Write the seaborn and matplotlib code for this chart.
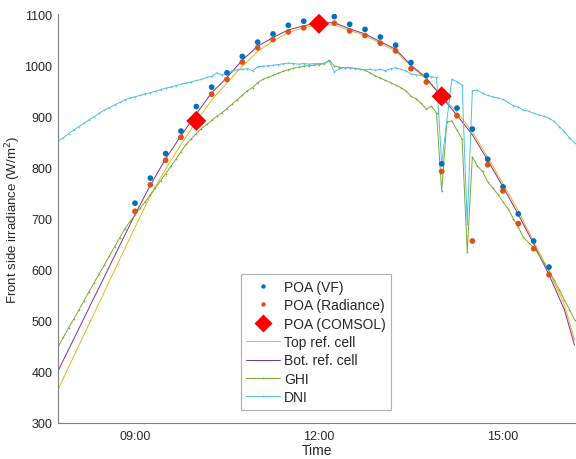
import matplotlib
matplotlib.use("Agg")
import matplotlib.pyplot as plt
import matplotlib.dates as mdates
from matplotlib.lines import Line2D
import pandas as pd
import seaborn as sns

DAY = "2021-06-01 "

# ---- POA simulations (15-min) ----
poa_times = pd.date_range(DAY + "09:00", DAY + "15:45", freq="15min")
poa_vf = [730, 779, 827, 871, 919, 957, 985, 1017, 1045, 1061, 1078, 1086, 1090,
          1095, 1080, 1070, 1055, 1039, 1005, 980, 807, 916, 875, 816, 762, 709, 656, 605]
poa_rad = [714, 766, 814, 859, 903, 943, 972, 1006, 1034, 1050, 1065, 1073, 1078,
           1082, 1067, 1058, 1043, 1028, 993, 967, 792, 901, 656, 805, 754, 690, 641, 590]

comsol_times = pd.to_datetime([DAY + t for t in ["10:00", "12:00", "14:00"]])
poa_comsol = [891, 1081, 939]

# ---- reference cells ----
ref_times = pd.to_datetime([DAY + t for t in [
    "07:45", "09:00", "09:15", "09:30", "09:45", "10:00", "10:15", "10:30", "10:45",
    "11:00", "11:15", "11:30", "11:45", "12:00", "12:15", "12:30", "12:45", "13:00",
    "13:15", "13:30", "13:45", "14:00", "14:15", "14:30", "14:45", "15:00", "15:15",
    "15:30", "15:45", "16:00", "16:10"]])
top_ref = [367, 683, 745, 797, 845, 890, 932, 965, 998, 1027, 1047, 1064, 1073, 1079,
           1079, 1068, 1058, 1043, 1027, 998, 972, 940, 908, 870, 820, 768, 715, 655,
           597, 532, 462]
bot_ref = [403, 708, 765, 817, 862, 905, 946, 976, 1010, 1037, 1054, 1069, 1077, 1083,
           1083, 1071, 1061, 1046, 1031, 1000, 975, 938, 902, 864, 814, 762, 708, 650,
           590, 522, 452]

# ---- meteo (5-min) ----
met_times = pd.date_range(DAY + "07:45", DAY + "16:10", freq="5min")
ghi = [450, 468, 486, 503, 521, 539, 557, 574, 592, 609, 627, 645, 662, 680, 694,
       707, 720, 733, 746, 760, 774, 788, 802, 816, 831, 845, 856,
       866, 876, 884, 892, 900, 907, 915, 924, 932, 941, 950, 956,
       966, 972, 976, 980, 984, 988, 991, 994, 996, 998, 999, 1000,
       1001, 1003, 1010, 998, 996, 995, 995, 994, 992, 990, 985, 979,
       975, 970, 966, 961, 956, 950, 939, 934, 925, 914, 920, 906,
       754, 888, 891, 873, 855, 634, 820, 803, 792, 772, 760, 747,
       733, 719, 700, 683, 663, 653, 643, 629, 613, 597, 580, 561,
       541, 522, 502]
dni = [852, 858, 866, 873, 880, 886, 893, 899, 906, 912, 917, 922, 927, 932, 936,
       938, 941, 944, 946, 949, 952, 955, 957, 960, 963, 965, 967,
       970, 972, 976, 978, 985, 981, 985, 989, 991, 992, 993, 989,
       997, 998, 999, 1000, 1001, 1003, 1004, 1003, 1002, 1003, 1002, 1003,
       1003, 1004, 1008, 987, 993, 995, 995, 993, 992, 991, 992, 990,
       992, 989, 993, 995, 992, 989, 983, 981, 980, 979, 977, 976,
       806, 890, 972, 968, 961, 690, 950, 951, 945, 941, 938, 936,
       933, 927, 921, 918, 912, 910, 906, 903, 900, 896, 890, 880,
       870, 858, 848]

C_VF, C_RAD = "#0072BD", "#D95319"
C_TOP, C_BOT, C_GHI, C_DNI = "#EDB120", "#7E2F8E", "#77AC30", "#4DBEEE"
TXT = "#262626"

sns.set_theme(style="white")
plt.rcParams["font.family"] = ["Liberation Sans", "DejaVu Sans"]

fig = plt.figure(figsize=(5.76, 4.6), dpi=100)
ax = fig.add_axes([0.1007, 0.0783, 0.8993, 0.889])

lw = 0.7
sns.lineplot(x=ref_times, y=top_ref, ax=ax, color=C_TOP, lw=lw, zorder=2)
sns.lineplot(x=ref_times, y=bot_ref, ax=ax, color=C_BOT, lw=lw, zorder=2)
sns.lineplot(x=met_times, y=ghi, ax=ax, color=C_GHI, lw=lw, marker=".", ms=2.4,
             markeredgewidth=0, zorder=2)
sns.lineplot(x=met_times, y=dni, ax=ax, color=C_DNI, lw=lw, marker=".", ms=2.4,
             markeredgewidth=0, zorder=2)
sns.scatterplot(x=poa_times, y=poa_vf, ax=ax, color=C_VF, s=17, edgecolor="none", zorder=3)
sns.scatterplot(x=poa_times, y=poa_rad, ax=ax, color=C_RAD, s=17, edgecolor="none", zorder=3)
sns.scatterplot(x=comsol_times, y=poa_comsol, ax=ax, color="#FF0000", marker="D",
                s=105, edgecolor="none", zorder=4)

ax.set_xlim(pd.Timestamp(DAY + "07:44:40"), pd.Timestamp(DAY + "16:11:25"))
ax.set_ylim(300, 1100)
ax.set_yticks(range(300, 1101, 100))
ax.set_xticks(pd.to_datetime([DAY + "09:00", DAY + "12:00", DAY + "15:00"]))
ax.xaxis.set_major_formatter(mdates.DateFormatter("%H:%M"))
ax.tick_params(direction="in", length=4, width=0.7, colors="#7f7f7f",
               labelcolor=TXT, labelsize=9, pad=5)
ax.tick_params(axis="y", pad=4)

for s in ["top", "right"]:
    ax.spines[s].set_visible(False)
for s in ["left", "bottom"]:
    ax.spines[s].set_color("#7f7f7f")
    ax.spines[s].set_linewidth(0.8)

ax.set_xlabel("Time", fontsize=10, color=TXT, labelpad=1)
ax.set_ylabel("Front side irradiance (W/m$^2$)", fontsize=9.5, color=TXT, labelpad=1)

handles = [
    Line2D([], [], ls="none", marker="o", ms=3.2, color=C_VF, mec="none"),
    Line2D([], [], ls="none", marker="o", ms=3.2, color=C_RAD, mec="none"),
    Line2D([], [], ls="none", marker="D", ms=9, color="#FF0000", mec="none"),
    Line2D([], [], color=C_TOP, lw=lw),
    Line2D([], [], color=C_BOT, lw=lw),
    Line2D([], [], color=C_GHI, lw=lw, marker=".", ms=2.4, mew=0),
    Line2D([], [], color=C_DNI, lw=lw, marker=".", ms=2.4, mew=0),
]
labels = ["POA (VF)", "POA (Radiance)", "POA (COMSOL)", "Top ref. cell",
          "Bot. ref. cell", "GHI", "DNI"]
leg = ax.legend(handles, labels, loc="upper left", bbox_to_anchor=(0.353, 0.364),
                borderaxespad=0, fontsize=10, frameon=True, fancybox=False,
                edgecolor="#b0b0b0", framealpha=1, handlelength=2.4,
                handletextpad=0.3, labelspacing=0.32, borderpad=0.4)
leg.get_frame().set_linewidth(0.8)
for t in leg.get_texts():
    t.set_color(TXT)

fig.savefig("out.png", dpi=100)
